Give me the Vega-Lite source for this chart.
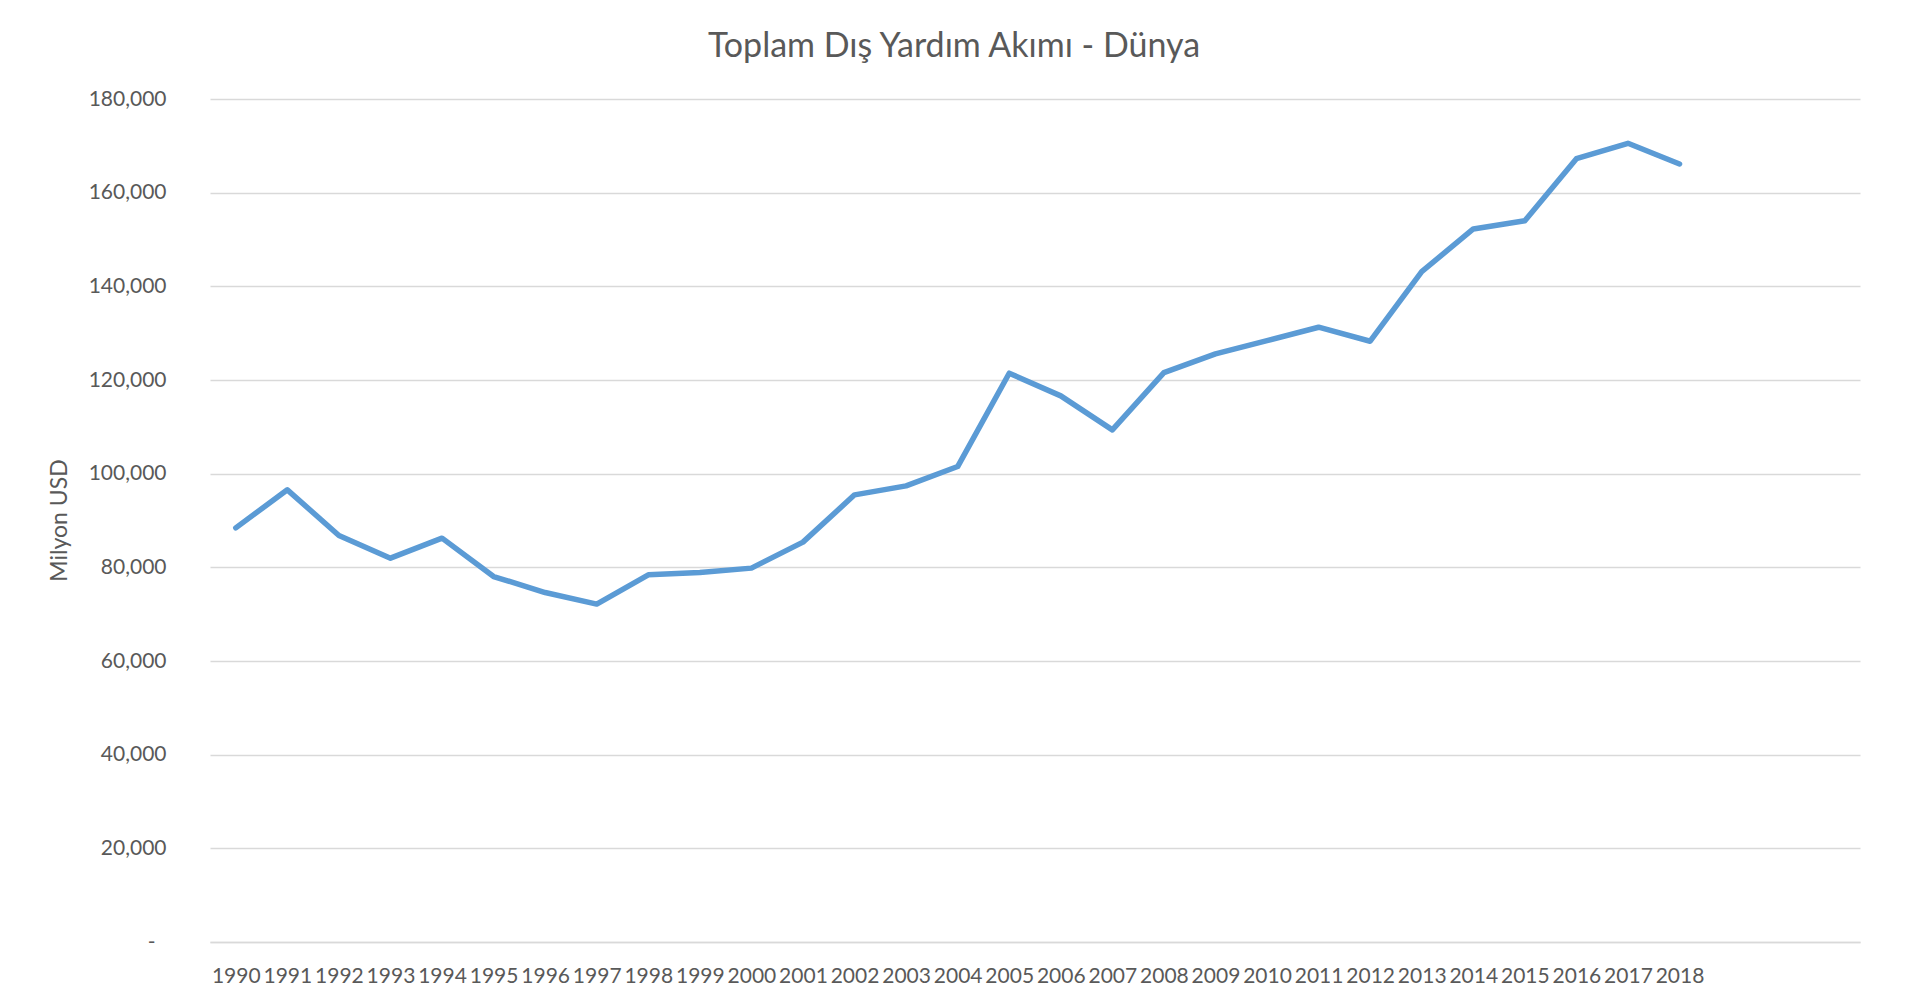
{
  "$schema": "https://vega.github.io/schema/vega-lite/v6.json",
  "autosize": "none",
  "width": 1650,
  "height": 843,
  "padding": {"left": 210, "top": 99, "right": 45, "bottom": 61},
  "background": "white",
  "title": {
    "text": "Toplam Dış Yardım Akımı - Dünya",
    "anchor": "middle",
    "frame": "bounds",
    "font": "Lato",
    "fontSize": 34,
    "fontWeight": "normal",
    "color": "#595959",
    "offset": 24
  },
  "data": {
    "values": [
      {"year": 1990, "value": 88430},
      {"year": 1991, "value": 96550},
      {"year": 1992, "value": 86790},
      {"year": 1993, "value": 81960},
      {"year": 1994, "value": 86230},
      {"year": 1995, "value": 78040},
      {"year": 1996, "value": 74620},
      {"year": 1997, "value": 72150},
      {"year": 1998, "value": 78400},
      {"year": 1999, "value": 78890},
      {"year": 2000, "value": 79830},
      {"year": 2001, "value": 85380},
      {"year": 2002, "value": 95480},
      {"year": 2003, "value": 97400},
      {"year": 2004, "value": 101520},
      {"year": 2005, "value": 121450},
      {"year": 2006, "value": 116610},
      {"year": 2007, "value": 109350},
      {"year": 2008, "value": 121580},
      {"year": 2009, "value": 125570},
      {"year": 2010, "value": 128410},
      {"year": 2011, "value": 131270},
      {"year": 2012, "value": 128280},
      {"year": 2013, "value": 143140},
      {"year": 2014, "value": 152250},
      {"year": 2015, "value": 154020},
      {"year": 2016, "value": 167250},
      {"year": 2017, "value": 170540},
      {"year": 2018, "value": 166120}
    ]
  },
  "mark": {
    "type": "line",
    "color": "#5b9bd5",
    "strokeWidth": 5.5,
    "strokeCap": "round",
    "strokeJoin": "round"
  },
  "encoding": {
    "x": {
      "field": "year",
      "type": "quantitative",
      "scale": {"domain": [1989.5, 2021.5], "nice": false, "zero": false},
      "axis": {
        "title": null,
        "values": [1990,1991,1992,1993,1994,1995,1996,1997,1998,1999,2000,2001,2002,2003,2004,2005,2006,2007,2008,2009,2010,2011,2012,2013,2014,2015,2016,2017,2018],
        "format": "d",
        "grid": false,
        "ticks": false,
        "domain": true,
        "domainColor": "#d9d9d9",
        "domainWidth": 1.5,
        "labelFont": "Lato",
        "labelFontSize": 21,
        "labelColor": "#595959",
        "labelPadding": 23,
        "labelOverlap": false,
        "labelFlush": false
      }
    },
    "y": {
      "field": "value",
      "type": "quantitative",
      "scale": {"domain": [0, 180000], "nice": false},
      "axis": {
        "title": "Milyon USD",
        "titleFont": "Lato",
        "titleFontSize": 23,
        "titleFontWeight": "normal",
        "titleColor": "#595959",
        "titleAngle": -90,
        "titleX": -151,
        "titleY": 421,
        "titleAlign": "center",
        "titleBaseline": "middle",
        "values": [0, 20000, 40000, 60000, 80000, 100000, 120000, 140000, 160000, 180000],
        "labelExpr": "datum.value === 0 ? '-' : format(datum.value, ',d')",
        "labelFont": "Lato",
        "labelFontSize": 21,
        "labelColor": "#595959",
        "labelPadding": {"condition": {"test": "datum.value === 0", "value": 55}, "value": 44},
        "ticks": false,
        "domain": false,
        "grid": true,
        "gridColor": "#d9d9d9",
        "gridWidth": 1.5
      }
    }
  },
  "config": {
    "view": {"stroke": null}
  }
}
